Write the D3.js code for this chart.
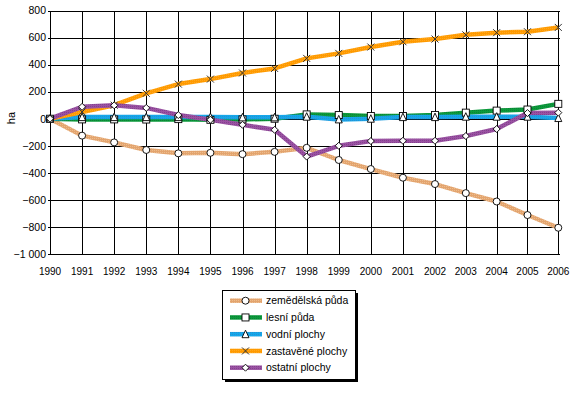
<!DOCTYPE html>
<html><head><meta charset="utf-8">
<script src="https://cdn.jsdelivr.net/npm/d3@7"></script>
<style>body{margin:0;background:#fff}svg{display:block}text{font-family:"Liberation Sans",Arial,Helvetica,sans-serif;fill:#000}</style>
</head><body>
<svg id="c" width="582" height="396"></svg>
<script>
const years = [1990,1991,1992,1993,1994,1995,1996,1997,1998,1999,2000,2001,2002,2003,2004,2005,2006];
const zemedelska = [0,-125,-175,-231,-256,-252,-262,-245,-215,-305,-372,-436,-483,-550,-612,-712,-806];
const lesni = [0,-5,-5,-6,-3,-8,-5,0,32,27,20,20,28,45,60,68,110];
const vodni = [0,12,12,12,12,12,10,10,15,-5,0,12,12,15,15,15,5];
const zastavene = [0,50,100,188,256,293,338,372,446,483,530,569,589,620,636,643,675];
const ostatni = [0,88,99,80,27,-8,-45,-82,-280,-200,-165,-163,-163,-128,-76,42,45];
const yTicks = [800,600,400,200,0,-200,-400,-600,-800,-1000];
const seriesNames = ["zemědělská půda","lesní půda","vodní plochy","zastavěné plochy","ostatní plochy"];
const seriesValues = [zemedelska, lesni, vodni, zastavene, ostatni];
const seriesColors = ["#E3A46E","#0C9A3C","#14A8EA","#FF9A00","#9A52A2"];
const seriesDots = ["#EDBC8C","#0A8434","#2890D4","#FFA820","#84408F"];
const seriesMarkers = ["circle","square","triangle","cross","diamond"];

const svg = d3.select("#c");
const x = d3.scaleLinear().domain([1990,2002,2006]).range([50,435,558.3]);
const y = d3.scaleLinear().domain([-1000,800]).range([254,10.5]);
const loc = d3.formatLocale({decimal:",",thousands:"\u00a0",grouping:[3],currency:["",""],minus:"\u2212"});
const fmt = loc.format(",d");

const defs = svg.append("defs");
seriesColors.forEach((c,i)=>{
  const p = defs.append("pattern").attr("id","p"+i).attr("patternUnits","userSpaceOnUse").attr("width",2).attr("height",2);
  p.append("rect").attr("width",2).attr("height",2).attr("fill",c);
  p.append("rect").attr("width",1).attr("height",1).attr("fill",seriesDots[i]);
});

// grid
const g = svg.append("g");
g.selectAll(".hg").data(yTicks).join("line")
  .attr("x1",48).attr("x2",560).attr("y1",d=>Math.round(y(d))+0.5).attr("y2",d=>Math.round(y(d))+0.5)
  .attr("stroke","#000").attr("stroke-width",1);
g.selectAll(".vg").data(years).join("line")
  .attr("x1",d=>Math.round(x(d))+0.5).attr("x2",d=>Math.round(x(d))+0.5)
  .attr("y1",Math.round(y(800))+0.5).attr("y2",Math.round(y(-1000))+0.5)
  .attr("stroke","#000").attr("stroke-width",1);

// y labels
g.selectAll(".yl").data(yTicks).join("text")
  .attr("x",46).attr("y",d=>y(d)).attr("dy","0.36em").attr("text-anchor","end")
  .attr("font-size","10.5px").text(d=>fmt(d));
// x labels
g.selectAll(".xl").data(years).join("text")
  .attr("x",d=>x(d)).attr("y",275).attr("text-anchor","middle")
  .attr("font-size","10px").text(d=>d);
svg.append("text").attr("transform","translate(15,118) rotate(-90)").attr("text-anchor","middle")
  .attr("font-size","11px").text("ha");

// lines
const line = d3.line().x((d,i)=>x(years[i])).y(d=>y(d));
seriesValues.forEach((vals,i)=>{
  svg.append("path").attr("d",line(vals)).attr("fill","none")
    .attr("stroke","url(#p"+i+")").attr("stroke-width",4.5).attr("stroke-linejoin","round");
});

function marker(sel, type, cx, cy){
  const s = 3.5;
  if(type==="circle") sel.append("circle").attr("cx",cx).attr("cy",cy).attr("r",s).attr("fill","#fff").attr("stroke","#000").attr("stroke-width",0.9);
  else if(type==="square") sel.append("rect").attr("x",cx-s).attr("y",cy-s).attr("width",2*s).attr("height",2*s).attr("fill","#fff").attr("stroke","#000").attr("stroke-width",0.9);
  else if(type==="triangle") sel.append("path").attr("d",`M${cx},${cy-s-0.5}L${cx+s},${cy+s}L${cx-s},${cy+s}Z`).attr("fill","#fff").attr("stroke","#000").attr("stroke-width",0.9);
  else if(type==="diamond") sel.append("path").attr("d",`M${cx},${cy-s}L${cx+s},${cy}L${cx},${cy+s}L${cx-s},${cy}Z`).attr("fill","#fff").attr("stroke","#000").attr("stroke-width",0.9);
  else if(type==="cross") sel.append("path").attr("d",`M${cx-s},${cy-s}L${cx+s},${cy+s}M${cx-s},${cy+s}L${cx+s},${cy-s}`).attr("stroke","#333").attr("stroke-width",1);
}
seriesValues.forEach((vals,i)=>{
  const mg = svg.append("g");
  vals.forEach((v,j)=>marker(mg, seriesMarkers[i], x(years[j]), y(v)));
});

// legend
const lg = svg.append("g");
lg.append("rect").attr("x",225).attr("y",293).attr("width",133).attr("height",89).attr("fill","#000");
lg.append("rect").attr("x",222.5).attr("y",290.5).attr("width",133).attr("height",89).attr("fill","#fff").attr("stroke","#000").attr("stroke-width",1);
seriesNames.forEach((n,i)=>{
  const yy = 300.7 + i*16.75;
  lg.append("line").attr("x1",230).attr("x2",262).attr("y1",yy).attr("y2",yy)
    .attr("stroke","url(#p"+i+")").attr("stroke-width",4.5);
  marker(lg, seriesMarkers[i], 245.5, yy);
  lg.append("text").attr("x",266).attr("y",yy).attr("dy","0.36em").attr("font-size","10.5px").text(n);
});
</script>
</body></html>
